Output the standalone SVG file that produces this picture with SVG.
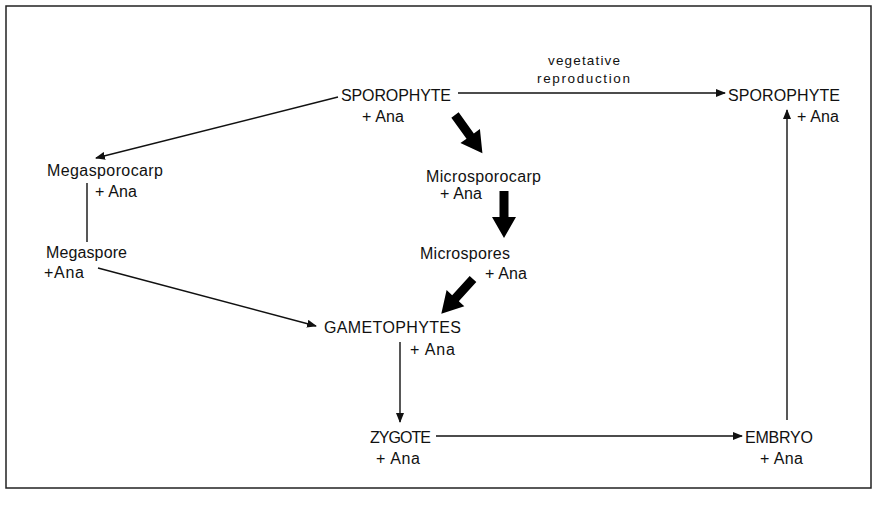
<svg xmlns="http://www.w3.org/2000/svg" width="879" height="505" viewBox="0 0 879 505">
<style>
.t{font-family:"Century Gothic","Liberation Sans",Arial,sans-serif;font-size:16px;fill:#111}
.s{font-size:13.5px}
.ln{stroke:#111;stroke-width:1.4;fill:none}
.big{fill:#000}
</style>
<defs>
<marker id="ah" markerWidth="10" markerHeight="8" refX="9" refY="4" orient="auto" markerUnits="userSpaceOnUse">
<path d="M0,0 L10,4 L0,8 Z" fill="#111"/>
</marker>
<path id="blk" d="M0,-4.5 L26,-4.5 L26,-12 L47,0 L26,12 L26,4.5 L0,4.5 Z"/>
</defs>
<rect x="6" y="6" width="865" height="482" fill="#fff" stroke="#222" stroke-width="1.5"/>
<g id="connectors">
<line class="ln" x1="458" y1="93" x2="725" y2="93" marker-end="url(#ah)"/>
<line class="ln" x1="338" y1="97" x2="96" y2="158" marker-end="url(#ah)"/>
<line class="ln" x1="87" y1="183" x2="87" y2="242"/>
<line class="ln" x1="98" y1="268" x2="316" y2="326" marker-end="url(#ah)"/>
<line class="ln" x1="400" y1="342" x2="400" y2="422" marker-end="url(#ah)"/>
<line class="ln" x1="436" y1="436" x2="742" y2="436" marker-end="url(#ah)"/>
<line class="ln" x1="787" y1="420" x2="787" y2="110" marker-end="url(#ah)"/>
<use href="#blk" class="big" transform="translate(455,115) rotate(54.3)"/>
<use href="#blk" class="big" transform="translate(504,191) rotate(90)"/>
<use href="#blk" class="big" transform="translate(473,279) rotate(132.4)"/>
</g>
<g id="sporophyte1">
<text class="t" x="341" y="101" textLength="110">SPOROPHYTE</text>
<text class="t" x="362" y="122" textLength="42">+ Ana</text>
</g>
<g id="veg-label">
<text class="t s" x="548" y="65" textLength="72">vegetative</text>
<text class="t s" x="537" y="83" textLength="93">reproduction</text>
</g>
<g id="sporophyte2">
<text class="t" x="728" y="101" textLength="112">SPOROPHYTE</text>
<text class="t" x="797" y="122" textLength="42">+ Ana</text>
</g>
<g id="megasporocarp">
<text class="t" x="47" y="176" textLength="116">Megasporocarp</text>
<text class="t" x="95" y="197" textLength="42">+ Ana</text>
</g>
<g id="megaspore">
<text class="t" x="46" y="258" textLength="81">Megaspore</text>
<text class="t" x="44" y="278" textLength="40">+Ana</text>
</g>
<g id="microsporocarp">
<text class="t" x="426" y="182" textLength="115">Microsporocarp</text>
<text class="t" x="440" y="199" textLength="42">+ Ana</text>
</g>
<g id="microspores">
<text class="t" x="420" y="259" textLength="90">Microspores</text>
<text class="t" x="485" y="279" textLength="42">+ Ana</text>
</g>
<g id="gametophytes">
<text class="t" x="324" y="333" textLength="137">GAMETOPHYTES</text>
<text class="t" x="410" y="355" textLength="45">+ Ana</text>
</g>
<g id="zygote">
<text class="t" x="370" y="443" textLength="61">ZYGOTE</text>
<text class="t" x="376" y="464" textLength="44">+ Ana</text>
</g>
<g id="embryo">
<text class="t" x="745" y="443" textLength="68">EMBRYO</text>
<text class="t" x="760" y="464" textLength="43">+ Ana</text>
</g>
</svg>
